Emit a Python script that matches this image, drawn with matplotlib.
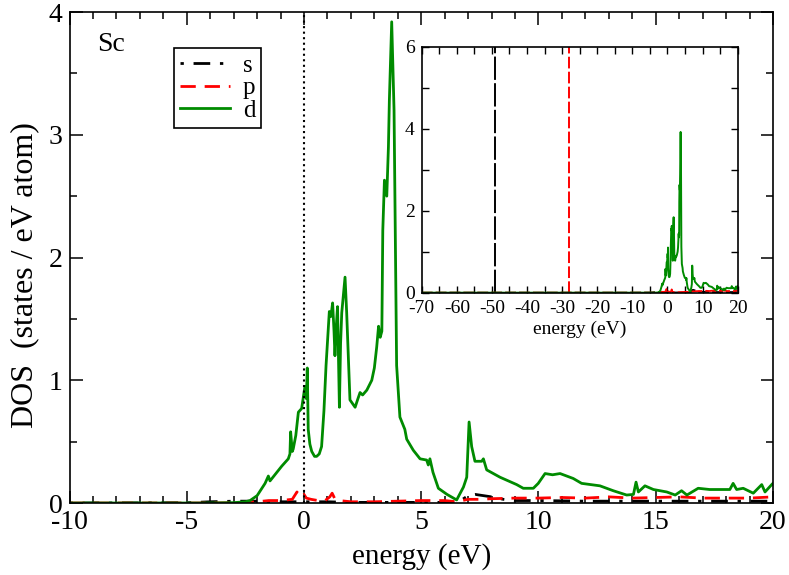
import numpy as np
import matplotlib.pyplot as plt

plt.rcParams['font.family'] = ['Liberation Serif', 'DejaVu Serif']

# d projected DOS (states / eV atom)
e_d = [-10, -4, -3, -2.5, -2.3, -2.0, -1.66, -1.52, -1.45, -1.2, -0.95, -0.67, -0.6, -0.57,
       -0.5, -0.46, -0.35, -0.24, -0.1, 0.04, 0.1, 0.14, 0.18, 0.25, 0.33, 0.45, 0.54, 0.65,
       0.75, 0.85, 0.94, 1.08, 1.15, 1.22, 1.28, 1.32, 1.38, 1.43, 1.51, 1.56, 1.61, 1.75,
       1.82, 1.96, 2.18, 2.3, 2.39, 2.5, 2.68, 2.89, 3.0, 3.1, 3.18, 3.25, 3.32, 3.36, 3.43,
       3.53, 3.6, 3.64, 3.74, 3.84, 3.95, 4.09, 4.3, 4.38, 4.66, 4.95, 5.23, 5.3, 5.37, 5.5,
       5.73, 6.1, 6.51, 6.8, 6.94, 7.04, 7.15, 7.29, 7.58, 7.65, 7.79, 8.36, 9.07, 9.35, 9.78,
       9.99, 10.28, 10.6, 10.92, 11.2, 11.48, 11.84, 12.62, 13.19, 13.76, 14.05, 14.16, 14.26,
       14.54, 14.9, 15.47, 15.83, 16.1, 16.33, 16.81, 17.3, 18.16, 18.3, 18.45, 18.73, 19.16,
       19.52, 19.66, 19.97, 20]
dos_d = [0, 0, 0.003, 0.01, 0.02, 0.06, 0.16, 0.22, 0.18, 0.24, 0.3, 0.36, 0.40, 0.58,
         0.42, 0.44, 0.55, 0.74, 0.77, 0.95, 0.85, 1.1, 0.6, 0.48, 0.42, 0.38, 0.38, 0.40,
         0.46, 0.75, 1.12, 1.56, 1.52, 1.63, 1.4, 1.2, 1.45, 1.6, 0.78, 1.3, 1.55, 1.84,
         1.55, 0.84, 0.78, 0.85, 0.9, 0.88, 0.92, 1.0, 1.1, 1.27, 1.44, 1.35, 1.4, 2.22, 2.63,
         2.5, 2.9, 3.28, 3.92, 3.2, 1.12, 0.70, 0.60, 0.52, 0.43, 0.36, 0.35, 0.31, 0.36, 0.25,
         0.12, 0.07, 0.025, 0.13, 0.21, 0.66, 0.46, 0.34, 0.34, 0.36, 0.27, 0.21, 0.15, 0.12, 0.12,
         0.16, 0.24, 0.23, 0.24, 0.22, 0.2, 0.16, 0.14, 0.1, 0.065, 0.07, 0.17, 0.09,
         0.14, 0.11, 0.09, 0.065, 0.1, 0.065, 0.12, 0.11, 0.11, 0.16, 0.11, 0.12, 0.08,
         0.15, 0.09, 0.155, 0.16]

# p projected DOS
e_p = [-10, -4, -3, -2.5, -2, -1.5, -1, -0.5, -0.3, -0.2, -0.1, 0, 0.1, 0.3, 0.6, 0.9, 1.1,
       1.2, 1.3, 1.5, 2, 3, 4, 5, 6, 6.5, 7, 7.5, 8, 9, 10, 11, 12, 13, 14, 15, 16, 17, 18, 19, 20]
dos_p = [0, 0, 0.002, 0.005, 0.01, 0.02, 0.02, 0.03, 0.09, 0.06, 0.05, 0.07, 0.04, 0.03, 0.02,
         0.02, 0.05, 0.08, 0.04, 0.02, 0.01, 0.01, 0.015, 0.02, 0.02, 0.01, 0.03, 0.03, 0.035,
         0.04, 0.04, 0.045, 0.04, 0.05, 0.04, 0.045, 0.05, 0.04, 0.04, 0.04, 0.05]

# s projected DOS
e_s = [-10, -5, -4, -3, -2, -1, 0, 1, 2, 3, 4, 5, 6, 6.6, 7, 7.3, 8, 8.5, 9, 10, 12, 14, 16, 18, 20]
dos_s = [0, 0.002, 0.01, 0.015, 0.015, 0.01, 0.01, 0.01, 0.005, 0.005, 0.005, 0.005, 0.005,
         0.01, 0.06, 0.07, 0.05, 0.03, 0.02, 0.02, 0.015, 0.015, 0.015, 0.015, 0.015]

# semicore peaks shown in the inset (energy, peak height - off scale)
e_semi_s = [-49.0]
h_semi_s = [40]
e_semi_p = [-28.0]
h_semi_p = [40]

green = '#008b00'

fig = plt.figure(figsize=(7.89, 5.75), dpi=100)
ax = fig.add_axes([0.0881, 0.1252, 0.8916, 0.8539])

ax.plot(e_s, dos_s, color='k', lw=2, dashes=(1.2, 3.5, 6, 3.5), label='s')
ax.plot(e_p, dos_p, color='r', lw=2, dashes=(5.5, 3.2), label='p')
ax.plot(e_d, dos_d, color=green, lw=2.0, label='d')
ax.axvline(0, color='k', ls=':', lw=1.5)

ax.set_xlim(-10, 20)
ax.set_ylim(0, 4)
ax.set_xticks([-10, -5, 0, 5, 10, 15, 20])
ax.set_xticks(np.arange(-10, 21, 1), minor=True)
ax.set_yticks([0, 1, 2, 3, 4])
ax.set_yticks(np.arange(0, 4.01, 0.5), minor=True)
ax.set_xticklabels(['-10', '-5', '0', '5', '10', '15', '20'])
ax.tick_params(which='both', direction='in', top=True, right=True, labelsize=20, width=1.1)
ax.tick_params(which='major', length=9, pad=5)
ax.tick_params(which='minor', length=5)
for sp in ax.spines.values():
    sp.set_linewidth(1.2)

ax.set_xlabel('energy (eV)', fontsize=21, labelpad=6)
ax.set_ylabel('DOS  (states / eV atom)', fontsize=23)
ax.yaxis.set_label_coords(-0.043, 0.464)

ax.text(0.039, 0.933, 'Sc', transform=ax.transAxes, fontsize=20, va='center', ha='left')

leg = ax.legend(loc='upper left', bbox_to_anchor=(0.1485, 0.9267), borderaxespad=0,
                fontsize=18, handlelength=2.0, handletextpad=0.5, labelspacing=0.0,
                borderpad=0.25, fancybox=False, framealpha=1, edgecolor='k')
leg.get_frame().set_linewidth(1.2)

# inset with semicore states
axi = fig.add_axes([0.5345, 0.491, 0.4005, 0.4278])
axi.vlines(e_semi_s, 0, h_semi_s, color='k', lw=1.4, linestyles=(0, (12, 1.7)))
axi.vlines(e_semi_p, 0, h_semi_p, color='r', lw=1.4, linestyles=(0, (6, 1.7)))
axi.plot([-70] + e_s, [0] + dos_s, color='k', lw=1.3, dashes=(6, 1.7))
axi.plot([-70] + e_p, [0] + dos_p, color='r', lw=1.3, dashes=(6, 1.7))
axi.plot([-70] + e_d, [0] + dos_d, color=green, lw=1.4)
axi.set_xlim(-70, 20)
axi.set_ylim(0, 6)
axi.set_xticks(np.arange(-70, 21, 10))
axi.set_xticks(np.arange(-70, 21, 5), minor=True)
axi.set_xticklabels([str(v) for v in range(-70, 21, 10)])
axi.set_yticks([0, 2, 4, 6])
axi.set_yticks(np.arange(0, 7, 1), minor=True)
axi.tick_params(which='both', direction='in', top=True, right=True, labelsize=14,
                length=5, width=1, pad=5)
for sp in axi.spines.values():
    sp.set_linewidth(1.2)
axi.set_xlabel('energy (eV)', fontsize=14, labelpad=3)

fig.savefig('out.png', dpi=100)
